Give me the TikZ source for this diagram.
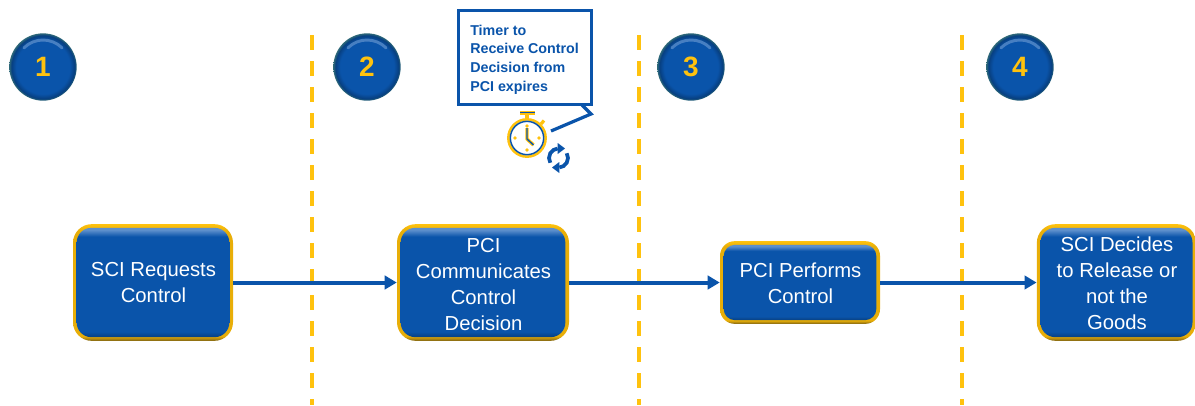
\documentclass[tikz,border=0pt]{standalone}
\usepackage{fontspec}
\setmainfont{Liberation Sans}
\usetikzlibrary{arrows.meta,shadings}
\definecolor{bluemain}{HTML}{0A54AA}
\definecolor{bluedark}{HTML}{073F80}
\definecolor{bluelight}{HTML}{5C8FCC}
\definecolor{gold}{HTML}{FFC20E}
\definecolor{goldmid}{HTML}{E8AE08}
\definecolor{golddark}{HTML}{7F6414}
\definecolor{badgerim}{HTML}{2F6A78}
\pgfdeclareverticalshading{boxface}{100bp}{
  color(0bp)=(bluedark); color(25bp)=(bluedark); color(27.5bp)=(bluemain); color(71bp)=(bluemain); color(74bp)=(bluelight); color(100bp)=(bluelight)}
\pgfdeclareverticalshading{boxrim}{100bp}{
  color(0bp)=(golddark); color(25bp)=(golddark); color(27bp)=(goldmid); color(72bp)=(goldmid); color(75bp)=(gold); color(100bp)=(gold)}
\pgfdeclareradialshading{badgeface}{\pgfpoint{0bp}{0bp}}{
  color(0bp)=(bluemain); color(20bp)=(bluemain); color(23.5bp)=(bluedark); color(25bp)=(badgerim); color(50bp)=(badgerim)}
\tikzset{
  x=0.75pt,y=-0.75pt,
  rimbox/.style={rounded corners=14pt,inner sep=0pt,shading=boxrim},
  procbox/.style={rounded corners=11pt,inner sep=0pt,shading=boxface},
  boxtext/.style={align=center,text=white,font=\fontsize{15.2}{19.5}\selectfont,inner sep=0pt},
  flow/.style={draw=bluemain,line width=3pt,-{Triangle[length=9pt,width=10pt]}},
  sep/.style={draw=gold,line width=2.6pt,dash pattern=on 11pt off 8.5pt},
  badge/.style={circle,minimum size=50.5pt,inner sep=0pt,text=gold,font=\fontsize{21}{24}\bfseries\selectfont,
    shading=badgeface},
  hilite/.style={draw=bluelight,opacity=.75,line width=2.2pt,line cap=round},
  callout/.style={draw=bluemain,line width=2.4pt,fill=white,minimum width=100pt,minimum height=70pt,inner sep=0pt},
  calltext/.style={text=bluemain,align=left,inner sep=0pt,font=\fontsize{10.7}{14}\bfseries\selectfont},
  tail/.style={draw=bluemain,line width=2.4pt,line join=miter},
  goldline/.style={draw=gold,line width=1.6pt},
  syncarc/.style={draw=bluemain,line width=2.8pt},
}
\begin{document}
\begin{tikzpicture}
\useasboundingbox (0,0) rectangle (1195,405);
\fill[white] (0,0) rectangle (1195,405);
% separators
\coordinate (s1t) at (312,35); \coordinate (s1b) at (312,405);
\coordinate (s2t) at (639,35); \coordinate (s2b) at (639,405);
\coordinate (s3t) at (962,35); \coordinate (s3b) at (962,405);
\draw[sep] (s1t) -- (s1b);
\draw[sep] (s2t) -- (s2b);
\draw[sep] (s3t) -- (s3b);
% badges
\node[badge] (b1) at (43,67) {};
\node[badge] (b2) at (367,67) {};
\node[badge] (b3) at (691,67) {};
\node[badge] (b4) at (1020,67) {};
\draw[hilite] (43,67) ++(225:27) arc (225:315:27);
\draw[hilite] (367,67) ++(225:27) arc (225:315:27);
\draw[hilite] (691,67) ++(225:27) arc (225:315:27);
\draw[hilite] (1020,67) ++(225:27) arc (225:315:27);
\node[text=gold,font=\fontsize{21}{24}\bfseries\selectfont] (l1) at (b1) {1};
\node[text=gold,font=\fontsize{21}{24}\bfseries\selectfont] (l2) at (b2) {2};
\node[text=gold,font=\fontsize{21}{24}\bfseries\selectfont] (l3) at (b3) {3};
\node[text=gold,font=\fontsize{21}{24}\bfseries\selectfont] (l4) at (b4) {4};
% boxes
\node[rimbox,minimum width=120pt,minimum height=87.5pt] (r1) at (153,282.5) {};
\node[rimbox,minimum width=129pt,minimum height=87.5pt] (r2) at (483,282.5) {};
\node[rimbox,minimum width=120pt,minimum height=62pt,rounded corners=11pt] (r3) at (800,282.5) {};
\node[rimbox,minimum width=119.5pt,minimum height=87.5pt] (r4) at (1116.5,282.5) {};
\node[procbox,minimum width=114.5pt,minimum height=82pt] (n1) at (153,282.5) {};
\node[procbox,minimum width=123.5pt,minimum height=82pt] (n2) at (483,282.5) {};
\node[procbox,minimum width=114.5pt,minimum height=56.5pt,rounded corners=8.5pt] (n3) at (800,282.5) {};
\node[procbox,minimum width=114pt,minimum height=82pt] (n4) at (1116.5,282.5) {};
\node[boxtext] (t1) at (153.5,283) {SCI Requests\\Control};
\node[boxtext] (t2) at (483.5,284.5) {PCI\\Communicates\\Control\\Decision};
\node[boxtext] (t3) at (800.5,283.5) {PCI Performs\\Control};
\node[boxtext] (t4) at (1117,283.5) {SCI Decides\\to Release or\\not the\\Goods};
% connectors
\draw[flow] (r1.east) -- (r2.west);
\draw[flow] (r2.east) -- (r3.west);
\draw[flow] (r3.east) -- (r4.west);
% callout
\draw[tail] (582,105) -- (591,114) -- (551,131);
\node[callout] (call) at (525,57.5) {};
\node[calltext,anchor=north west] (calltxt) at (470,24.5) {Timer to\\Receive Control\\Decision from\\PCI expires};
% stopwatch
\node[circle,draw=gold,line width=1.9pt,fill=white,minimum size=28pt,inner sep=0pt] (watch) at (527,138) {};
\node[circle,draw=bluemain,line width=1.1pt,minimum size=25pt,inner sep=0pt] (watchin) at (527,138) {};
\draw[goldline,line width=2.6pt] (527,119) -- (527,114.5);
\draw[goldline,line width=3pt] (520,112.5) -- (535,112.5);
\draw[draw=bluemain,line width=.9pt] (520,112.5) -- (535,112.5);
\draw[goldline,line width=2.4pt] (541,124) -- (544,120.5);
\draw[draw=gold,line width=2.6pt,line join=round] (527,128) -- (527,139) -- (533.5,145);
\draw[draw=bluemain,line width=1pt,line join=round] (527,128) -- (527,139) -- (533.5,145);
\fill[gold] (527,126) circle (1.8);
\fill[gold] (527,150) circle (1.8);
\fill[gold] (515,138) circle (1.8);
\fill[gold] (539,138) circle (1.8);
% refresh icon
\draw[syncarc] (558.5,158) ++(150:9.5) arc (150:265:9.5);
\fill[bluemain] (557.7,143) -- (557.7,154) -- (565,148.5) -- cycle;
\draw[syncarc] (558.5,158) ++(330:9.5) arc (330:445:9.5);
\fill[bluemain] (559.3,162) -- (559.3,173) -- (552,167.5) -- cycle;
\end{tikzpicture}
\end{document}
